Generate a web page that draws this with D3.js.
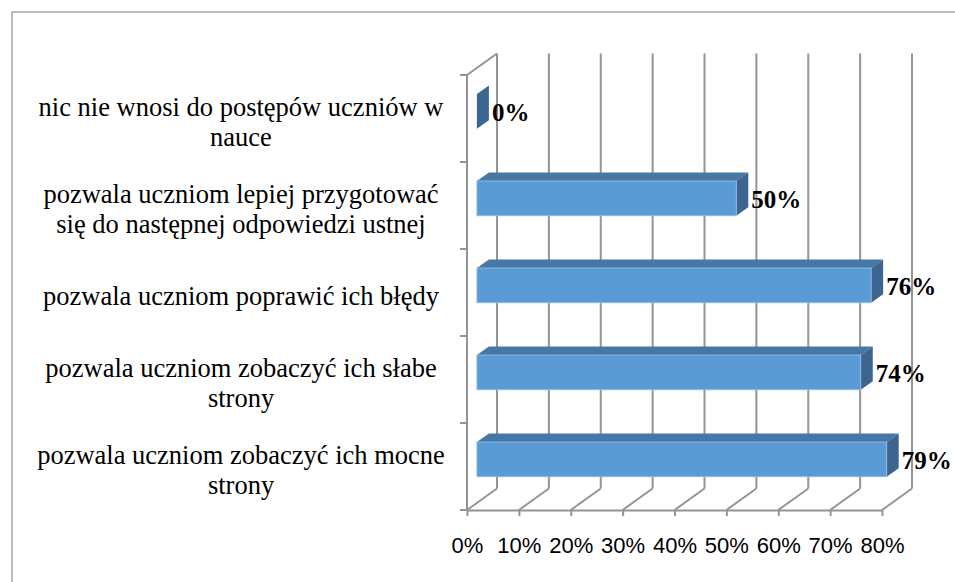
<!DOCTYPE html>
<html>
<head>
<meta charset="utf-8">
<script src="https://cdn.jsdelivr.net/npm/d3@7"></script>
<style>
  html, body { margin: 0; padding: 0; background: #fff; }
  svg { display: block; }
  .serif { font-family: "Times New Roman", "Liberation Serif", "DejaVu Serif", serif; }
</style>
</head>
<body>
<svg id="chart" width="955" height="582"></svg>
<script>
// ---- data ----
const categories = [
  "nic nie wnosi do postępów uczniów w\nnauce",
  "pozwala uczniom lepiej przygotować\nsię do następnej odpowiedzi ustnej",
  "pozwala uczniom poprawić ich błędy",
  "pozwala uczniom zobaczyć ich słabe\nstrony",
  "pozwala uczniom zobaczyć ich mocne\nstrony"
];
const values = [0.00, 0.50, 0.76, 0.74, 0.79];
const tickValues = [0, 0.1, 0.2, 0.3, 0.4, 0.5, 0.6, 0.7, 0.8];

// ---- layout ----
const svg = d3.select("#chart");
const W = 955, H = 582;
const front = { left: 467, right: 882, top: 75, bottom: 510 };
const depth = { dx: 30, dy: -21.5 };
const barD0 = 0.33, barD1 = 0.73;
const gridColor = "#949494";

const x = d3.scaleLinear().domain([0, 0.8]).range([front.left, front.right]);
const y = d3.scaleBand().domain(categories).range([front.top, front.bottom]).paddingInner(0).paddingOuter(0);

// outer border
svg.append("rect")
  .attr("x", 12).attr("y", 12).attr("width", W + 20).attr("height", H + 20)
  .attr("fill", "#fff").attr("stroke", "#a6a6a6").attr("stroke-width", 1.5);

const g = svg.append("g");

// back wall vertical gridlines
g.selectAll("line.back").data(tickValues).join("line")
  .attr("class", "back")
  .attr("x1", d => x(d) + depth.dx).attr("x2", d => x(d) + depth.dx)
  .attr("y1", front.top + depth.dy).attr("y2", front.bottom + depth.dy)
  .attr("stroke", gridColor).attr("stroke-width", 2);

// floor diagonals
g.selectAll("line.floor").data(tickValues).join("line")
  .attr("class", "floor")
  .attr("x1", d => x(d)).attr("x2", d => x(d) + depth.dx)
  .attr("y1", front.bottom).attr("y2", front.bottom + depth.dy)
  .attr("stroke", gridColor).attr("stroke-width", 2);

// left wall edges
g.append("line")
  .attr("x1", front.left).attr("x2", front.left + depth.dx)
  .attr("y1", front.top).attr("y2", front.top + depth.dy)
  .attr("stroke", gridColor).attr("stroke-width", 2);
g.append("line")
  .attr("x1", front.left).attr("x2", front.left)
  .attr("y1", front.top).attr("y2", front.bottom)
  .attr("stroke", gridColor).attr("stroke-width", 2);

// left axis ticks at category boundaries
const boundaries = categories.map(c => y(c)).concat([front.bottom]);
g.selectAll("line.ytick").data(boundaries).join("line")
  .attr("class", "ytick")
  .attr("x1", front.left - 7).attr("x2", front.left)
  .attr("y1", d => d).attr("y2", d => d)
  .attr("stroke", gridColor).attr("stroke-width", 2);

// bottom axis
const xAxis = d3.axisBottom(x)
  .tickValues(tickValues)
  .tickFormat(d3.format(".0%"))
  .tickSize(6)
  .tickSizeOuter(0);
const ax = svg.append("g").attr("transform", `translate(0,${front.bottom})`).call(xAxis);
ax.attr("font-family", null).attr("font-size", null);
ax.select(".domain").attr("stroke", gridColor).attr("stroke-width", 2);
ax.selectAll(".tick line").attr("stroke", gridColor).attr("stroke-width", 2);
ax.selectAll(".tick text")
  .attr("y", 43).attr("dy", 0)
  .attr("fill", "#000")
  .style("font-family", "'Liberation Sans', Arial, sans-serif")
  .style("font-size", "22px");

// bars
const bh = y.bandwidth() * 0.4;
const ox0 = depth.dx * barD0, oy0 = depth.dy * barD0;
const odx = depth.dx * (barD1 - barD0), ody = depth.dy * (barD1 - barD0);

const bars = svg.append("g").selectAll("g.bar").data(categories.map((c, i) => ({ c, v: values[i] })))
  .join("g").attr("class", "bar");

bars.each(function(d) {
  const gb = d3.select(this);
  const xl = x(0) + ox0;
  const xr = x(d.v) + ox0;
  const yc = y(d.c) + y.bandwidth() / 2 + oy0;
  const yt = yc - bh / 2, yb = yc + bh / 2;
  // top face
  gb.append("path")
    .attr("d", `M${xl},${yt} L${xl + odx},${yt + ody} L${xr + odx},${yt + ody} L${xr},${yt} Z`)
    .attr("fill", "#4777a5");
  // side face
  gb.append("path")
    .attr("d", `M${xr},${yt} L${xr + odx},${yt + ody} L${xr + odx},${yb + ody} L${xr},${yb} Z`)
    .attr("fill", "#3c6690");
  // front face
  gb.append("rect")
    .attr("x", xl).attr("y", yt).attr("width", Math.max(0, xr - xl)).attr("height", bh)
    .attr("fill", "#5b9bd5")
    .attr("stroke", d.v > 0 ? "#9cc2e8" : "none").attr("stroke-width", 0.8);
  // value label
  gb.append("text")
    .attr("class", "serif")
    .attr("x", xr + odx + 3)
    .attr("y", yc + 9.5)
    .text(d3.format(".0%")(d.v))
    .attr("font-weight", "bold")
    .attr("font-size", 25)
    .attr("fill", "#000");
});

// category labels
const lh = 30;
svg.append("g").selectAll("text.cat").data(categories).join("text")
  .attr("class", "cat serif")
  .attr("text-anchor", "middle")
  .attr("font-size", 26.5)
  .attr("fill", "#000")
  .each(function(c) {
    const lines = c.split("\n");
    const yc = y(c) + y.bandwidth() / 2;
    const t = d3.select(this);
    lines.forEach((ln, i) => {
      t.append("tspan")
        .attr("x", 241)
        .attr("y", yc + 12 + (i - (lines.length - 1) / 2) * lh)
        .text(ln);
    });
  });
</script>
</body>
</html>
